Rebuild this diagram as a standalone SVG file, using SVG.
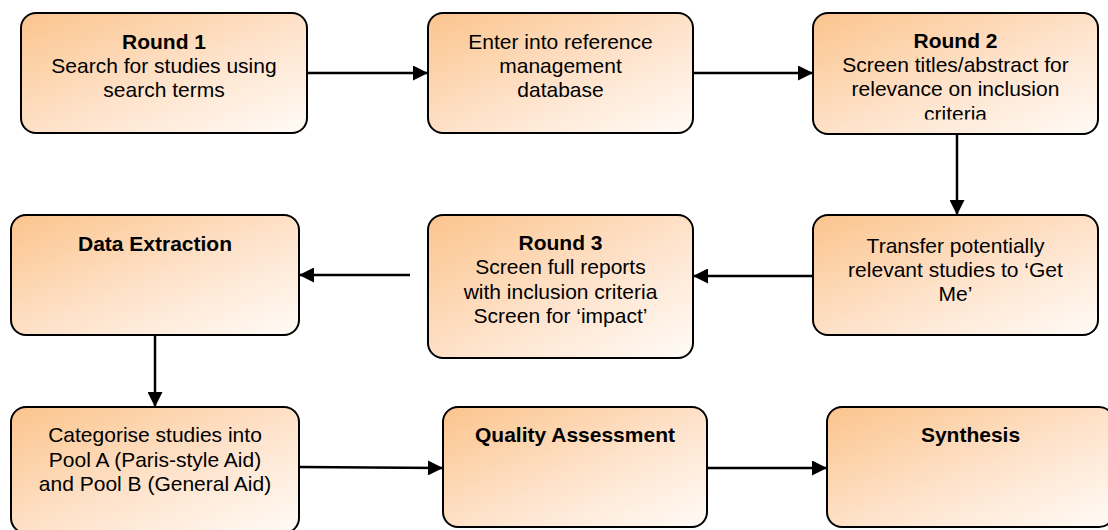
<svg xmlns="http://www.w3.org/2000/svg" width="1108" height="530" viewBox="0 0 1108 530">
<defs>
<linearGradient id="g" x1="0" y1="0" x2="1" y2="1">
<stop offset="0" stop-color="#FBC48C"/>
<stop offset="0.55" stop-color="#FEE3CC"/>
<stop offset="1" stop-color="#FFFBF7"/>
</linearGradient>
<marker id="ah" viewBox="0 0 10 10" refX="10" refY="5" markerWidth="6.4" markerHeight="6" orient="auto" markerUnits="strokeWidth">
<path d="M0,0 L10,5 L0,10 z" fill="#000"/>
</marker>
<clipPath id="c3"><rect x="813" y="13" width="285" height="106.5"/></clipPath>
</defs>
<style>
.box{fill:url(#g);stroke:#000;stroke-width:2}
text{font-family:"Liberation Sans",Arial,sans-serif;font-size:21px;fill:#000;text-anchor:middle}
.b{font-weight:bold}
.con line{stroke:#000;stroke-width:2.5;marker-end:url(#ah)}
</style>
<rect width="1108" height="530" fill="#fff"/>
<g id="n1">
<rect class="box" x="21" y="13" width="286" height="120" rx="15"/>
<text x="164" y="48.5" class="b">Round 1</text>
<text x="164" y="72.5">Search for studies using</text>
<text x="164" y="96.5">search terms</text>
</g>
<g id="n2">
<rect class="box" x="428" y="13" width="265" height="120" rx="15"/>
<text x="560.5" y="49">Enter into reference</text>
<text x="560.5" y="73">management</text>
<text x="560.5" y="97">database</text>
</g>
<g id="n3">
<rect class="box" x="813" y="13" width="285" height="121" rx="15"/>
<text x="955.5" y="47.5" class="b">Round 2</text>
<text x="955.5" y="71.5">Screen titles/abstract for</text>
<text x="955.5" y="96">relevance on inclusion</text>
<text x="955.5" y="120.5" clip-path="url(#c3)">criteria</text>
</g>
<g id="n4">
<rect class="box" x="813" y="215" width="285" height="120" rx="15"/>
<text x="955.5" y="253">Transfer potentially</text>
<text x="955.5" y="277">relevant studies to ‘Get</text>
<text x="955.5" y="301">Me’</text>
</g>
<g id="n5">
<rect class="box" x="428" y="215" width="265" height="143" rx="15"/>
<text x="560.5" y="250" class="b">Round 3</text>
<text x="560.5" y="274">Screen full reports</text>
<text x="560.5" y="298.5">with inclusion criteria</text>
<text x="560.5" y="323">Screen for ‘impact’</text>
</g>
<g id="n6">
<rect class="box" x="11" y="215" width="288" height="120" rx="15"/>
<text x="155" y="250.5" class="b">Data Extraction</text>
</g>
<g id="n7">
<rect class="box" x="11" y="407" width="288" height="126" rx="15"/>
<text x="155" y="442">Categorise studies into</text>
<text x="155" y="466.5">Pool A (Paris-style Aid)</text>
<text x="155" y="491">and Pool B (General Aid)</text>
</g>
<g id="n8">
<rect class="box" x="443" y="407" width="264" height="120" rx="15"/>
<text x="575" y="442" class="b">Quality Assessment</text>
</g>
<g id="n9">
<rect class="box" x="827" y="407" width="287" height="120" rx="15"/>
<text x="970.5" y="442" class="b">Synthesis</text>
</g>
<g id="connectors" class="con">
<line x1="307" y1="73" x2="428" y2="73"/>
<line x1="693" y1="73" x2="813" y2="73"/>
<line x1="957" y1="134" x2="957" y2="215"/>
<line x1="813" y1="276" x2="693" y2="276"/>
<line x1="410" y1="275" x2="299" y2="275"/>
<line x1="155" y1="335" x2="155" y2="407"/>
<line x1="299" y1="467" x2="443" y2="468"/>
<line x1="707" y1="468" x2="827" y2="468"/>
</g>
</svg>
